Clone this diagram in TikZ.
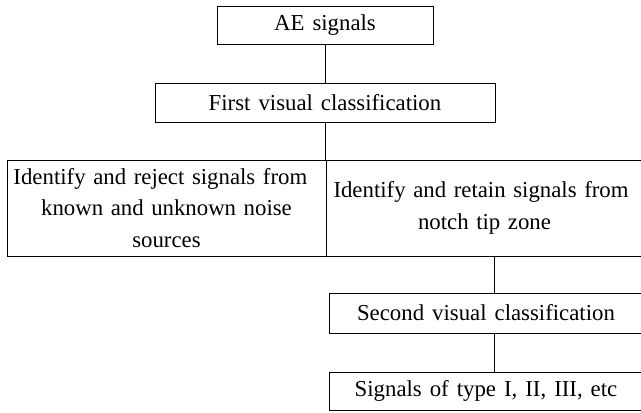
\documentclass[tikz,border=0pt]{standalone}
\usepackage{fontspec}
\setmainfont{Liberation Serif}
\newcommand{\myboxfont}{\fontsize{22.8}{31.5}\selectfont\spaceskip=8pt plus 6pt minus 1pt\relax}
\begin{document}
\begin{tikzpicture}[x=1pt,y=-1pt,
  box/.style={draw, line width=0.8pt, inner sep=0pt, align=center, font=\myboxfont},
  link/.style={line width=0.8pt}]
\useasboundingbox (0,0) rectangle (641,413);
\clip (0,0) rectangle (641,413);
\node[box, minimum width=216pt, minimum height=38pt] (ae) at (325,25.5) {AE signals};
\node[box, minimum width=340pt, minimum height=39pt] (first) at (325,102.5) {First visual classification};
\node[box, minimum width=319pt, minimum height=96pt, text width=315pt] (rej) at (166.5,208)
  {\makebox[306pt][s]{Identify and reject signals from}\\known and unknown noise\\sources};
\node[box, minimum width=317pt, minimum height=96pt, text width=310pt] (ret) at (484.5,208)
  {\makebox[302pt][s]{Identify and retain signals from}\\notch tip zone};
\node[box, minimum width=314pt, minimum height=40pt] (second) at (486,313) {Second visual classification};
\node[box, minimum width=314pt, minimum height=38pt] (sig) at (486,391) {Signals of type I, II, III, etc};
\coordinate (c1) at (494,256);
\coordinate (c2) at (494,293);
\coordinate (c3) at (494,333);
\coordinate (c4) at (494,372);
\draw[link] (ae.south) -- (first.north);
\draw[link] (first.south) -- (first.south |- rej.north);
\draw[link] (c1) -- (c2);
\draw[link] (c3) -- (c4);
\end{tikzpicture}
\end{document}
